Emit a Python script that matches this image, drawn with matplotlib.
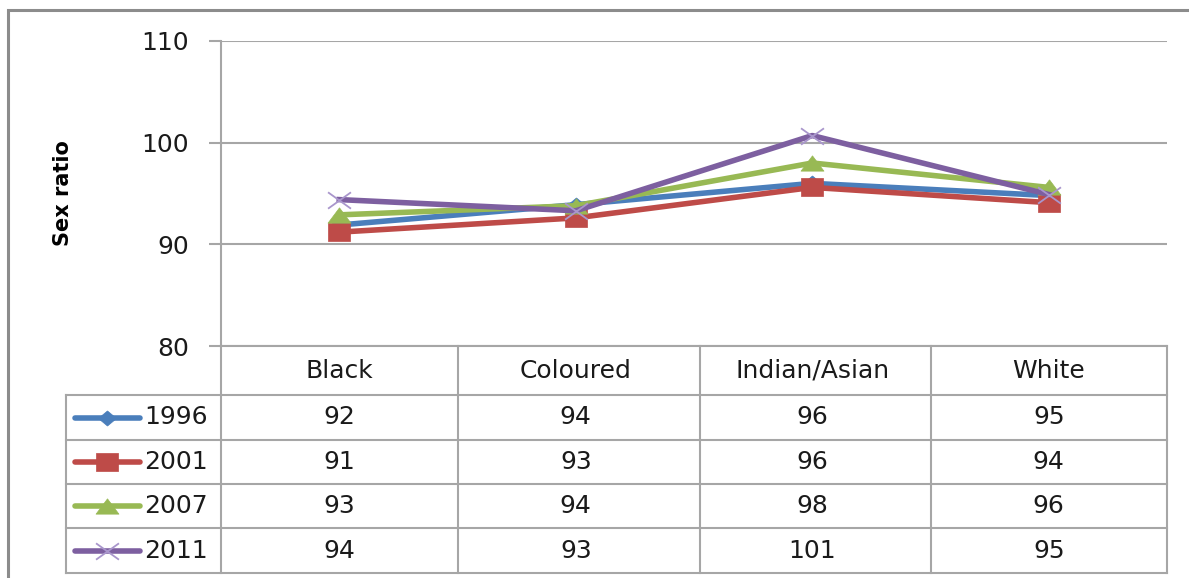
import matplotlib
matplotlib.use("Agg")
import matplotlib.pyplot as plt
from matplotlib.lines import Line2D
from matplotlib.patches import Rectangle
from matplotlib.path import Path
import matplotlib.transforms as mtransforms

# data
categories = ['Black', 'Coloured', 'Indian/Asian', 'White']
years = ['1996', '2001', '2007', '2011']
ratio_1996 = [91.9, 93.9, 96.0, 94.8]
ratio_2001 = [91.2, 92.6, 95.6, 94.1]
ratio_2007 = [92.9, 93.8, 98.0, 95.6]
ratio_2011 = [94.4, 93.3, 100.7, 94.9]
table_1996 = [92, 94, 96, 95]
table_2001 = [91, 93, 96, 94]
table_2007 = [93, 94, 98, 96]
table_2011 = [94, 93, 101, 95]

series = [ratio_1996, ratio_2001, ratio_2007, ratio_2011]
tables = [table_1996, table_2001, table_2007, table_2011]
colors = ['#4A7EBB', '#BE4B48', '#98B954', '#7D5FA0']

# the original is a bit stretched sideways, so the markers are too
diamond = Path([(-0.6, 0), (0, 0.5), (0.6, 0), (0, -0.5), (-0.6, 0)], closed=True)
square = Path([(-0.65, -0.5), (0.65, -0.5), (0.65, 0.5), (-0.65, 0.5), (-0.65, -0.5)], closed=True)
triangle = Path([(-0.75, -0.5), (0.75, -0.5), (0, 0.5), (-0.75, -0.5)], closed=True)
cross = Path([(-0.7, -0.5), (0.7, 0.5), (-0.7, 0.5), (0.7, -0.5)],
             [Path.MOVETO, Path.LINETO, Path.MOVETO, Path.LINETO])
markers = [diamond, square, triangle, cross]
msizes = [13, 16, 16.5, 16.5]

W, H = 1189, 578
fig = plt.figure(figsize=(W / 100, H / 100), dpi=100)
plt.rcParams['font.family'] = 'DejaVu Sans'

grid_c = '#a6a6a6'
txt_c = '#1a1a1a'

def fx(px):
    return px / W

def fy(py):
    return 1 - py / H

# outer frame
fig.add_artist(Rectangle((fx(8), -0.1), 1.1, fy(10) + 0.1, transform=fig.transFigure,
                         fill=False, edgecolor='#8c8c8c', linewidth=2.2))

left, right, top, bottom = 221, 1167, 41, 346
ax = fig.add_axes([fx(left), fy(bottom), fx(right - left), (bottom - top) / H])
ax.set_xlim(-0.5, len(categories) - 0.5)
ax.set_ylim(80, 110)
ax.set_yticks([80, 90, 100, 110])
ax.yaxis.grid(True, color=grid_c, linewidth=1.5)
ax.set_axisbelow(True)
for s in ['top', 'right', 'bottom']:
    ax.spines[s].set_visible(False)
ax.spines['left'].set_color(grid_c)
ax.spines['left'].set_linewidth(1.5)
ax.set_xticks([])
ax.tick_params(axis='y', length=9, width=1.5, color=grid_c, labelsize=18, pad=14,
               labelcolor=txt_c)
ax.set_ylabel('Sex ratio', fontsize=15, fontweight='bold')
ax.yaxis.set_label_coords((73 - left) / (right - left), 0.5)

def style(m, c):
    if m is cross:
        return dict(markerfacecolor='none', markeredgecolor='#a996cc', markeredgewidth=1.3)
    return dict(markerfacecolor=c, markeredgecolor=c, markeredgewidth=0.5)

xs = list(range(len(categories)))
for vals, c, m, ms in zip(series, colors, markers, msizes):
    ax.plot(xs, vals, color=c, linewidth=4, marker=m, markersize=ms,
            clip_on=False, zorder=3, **style(m, c))

# data table below the plot
blend = mtransforms.blended_transform_factory(ax.transData, fig.transFigure)
row_edges = [346, 395, 440, 484, 528, 573]
col_px = [66, 221, 458, 700, 931, 1167]

def hline(x0, x1, y):
    fig.add_artist(Line2D([fx(x0), fx(x1)], [fy(y), fy(y)], color=grid_c, linewidth=1.5,
                          transform=fig.transFigure))

def vline(x, y0, y1):
    fig.add_artist(Line2D([fx(x), fx(x)], [fy(y0), fy(y1)], color=grid_c, linewidth=1.5,
                          transform=fig.transFigure))

hline(221, 1167, 346)
for y in row_edges[1:]:
    hline(66, 1167, y)
for x in col_px[1:]:
    vline(x, 346, 573)
vline(66, 395, 573)

for i, cat in enumerate(categories):
    fig.text(i, fy((346 + 395) / 2), cat, transform=blend, ha='center', va='center',
             fontsize=18, color=txt_c)

for r, (yr, tv, c, m, ms) in enumerate(zip(years, tables, colors, markers, msizes)):
    yc = fy((row_edges[r + 1] + row_edges[r + 2]) / 2)
    for i, v in enumerate(tv):
        fig.text(i, yc, str(v), transform=blend, ha='center', va='center',
                 fontsize=18, color=txt_c)
    fig.add_artist(Line2D([fx(75), fx(140)], [yc, yc], color=c, linewidth=4,
                          solid_capstyle='round', transform=fig.transFigure))
    fig.add_artist(Line2D([fx(107)], [yc], marker=m, markersize=ms, color=c,
                          transform=fig.transFigure, **style(m, c)))
    fig.text(fx(144), yc, yr, ha='left', va='center', fontsize=18, color=txt_c)

fig.savefig('out.png', dpi=100)
